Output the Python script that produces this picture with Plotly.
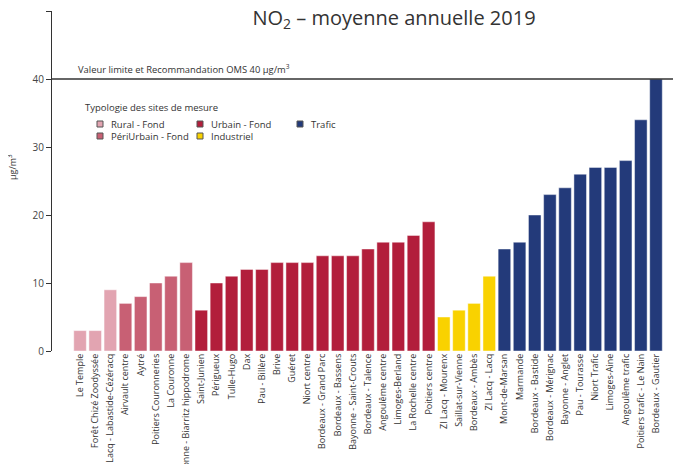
import plotly.graph_objects as go

# ---- data ----
rural_sites = ["Le Temple", "Forêt Chizé Zoodyssée", "Lacq - Labastide-Cézéracq"]
rural_vals = [3, 3, 9]

periurbain_sites = ["Airvault centre", "Aytré", "Poitiers Couronneries", "La Couronne",
                    "Bayonne - Biarritz hippodrome"]
periurbain_vals = [7, 8, 10, 11, 13]

urbain_sites = ["Saint-Junien", "Périgueux", "Tulle-Hugo", "Dax", "Pau - Billère", "Brive",
                "Guéret", "Niort centre", "Bordeaux - Grand Parc", "Bordeaux - Bassens",
                "Bayonne - Saint-Crouts", "Bordeaux - Talence", "Angoulême centre",
                "Limoges-Berland", "La Rochelle centre", "Poitiers centre"]
urbain_vals = [6, 10, 11, 12, 12, 13, 13, 13, 14, 14, 14, 15, 16, 16, 17, 19]

industriel_sites = ["ZI Lacq - Mourenx", "Saillat-sur-Vienne", "Bordeaux - Ambès", "ZI Lacq - Lacq"]
industriel_vals = [5, 6, 7, 11]

trafic_sites = ["Mont-de-Marsan", "Marmande", "Bordeaux - Bastide", "Bordeaux - Mérignac",
                "Bayonne - Anglet", "Pau - Tourasse", "Niort Trafic", "Limoges-Aine",
                "Angoulême trafic", "Poitiers trafic - Le Nain", "Bordeaux - Gautier"]
trafic_vals = [15, 16, 20, 23, 24, 26, 27, 27, 28, 34, 40]

limit_value = 40
y_ticks = [0, 10, 20, 30, 40, 50]

group_names = ["Rural - Fond", "PériUrbain - Fond", "Urbain - Fond", "Industriel", "Trafic"]
group_sites = [rural_sites, periurbain_sites, urbain_sites, industriel_sites, trafic_sites]
group_vals = [rural_vals, periurbain_vals, urbain_vals, industriel_vals, trafic_vals]
group_colors = ["#E2A4B1", "#C86074", "#B21E3B", "#F9D200", "#233A7A"]

all_sites = rural_sites + periurbain_sites + urbain_sites + industriel_sites + trafic_sites

FONT = "Open Sans, Noto Sans, sans-serif"
TXT = "#333333"
W, H = 681, 464
OFF = 8  # page body margin
FW, FH = W - OFF, H - OFF
L, R, T, B = 52 - OFF, 0, 11 - OFF, 113
pw, ph = FW - L - R, FH - T - B

def px_x(px):  # screen px -> paper x
    return (px - OFF - L) / pw

def px_y(py):  # screen px -> paper y
    return (FH - B - (py - OFF)) / ph

fig = go.Figure()
for name, sites, vals, color in zip(group_names, group_sites, group_vals, group_colors):
    fig.add_trace(go.Bar(
        x=sites, y=vals, name=name, showlegend=False,
        marker=dict(color=color, line=dict(color="rgba(255,255,255,0.45)", width=1)),
    ))

# limit line + label
fig.add_shape(type="line", xref="paper", x0=0, x1=1, yref="y", y0=limit_value, y1=limit_value,
              line=dict(color="#333333", width=1.5), layer="above")
fig.add_annotation(xref="paper", x=px_x(76), yref="y", y=limit_value, xanchor="left",
                   yanchor="bottom", yshift=1, showarrow=False,
                   text="Valeur limite et Recommandation OMS 40 µg/m<sup>3</sup>",
                   font=dict(family=FONT, size=9.4, color=TXT))

# legend (title + entries)
fig.add_annotation(xref="paper", x=px_x(83), yref="paper", y=px_y(107), xanchor="left",
                   yanchor="middle", showarrow=False, text="Typologie des sites de mesure",
                   font=dict(family=FONT, size=9.5, color=TXT))
leg_pos = [(97, 124), (97, 136), (197, 124), (197, 136), (297, 124)]
for name, color, (lx, ly) in zip(group_names, group_colors, leg_pos):
    fig.add_shape(type="rect", xref="paper", yref="paper",
                  x0=px_x(lx), x1=px_x(lx + 6), y0=px_y(ly - 3), y1=px_y(ly + 3),
                  fillcolor=color, line=dict(color="#555555", width=1), layer="above")
    fig.add_annotation(xref="paper", x=px_x(lx + 12), yref="paper", y=px_y(ly), xanchor="left",
                       yanchor="middle", showarrow=False, text=name,
                       font=dict(family=FONT, size=9.5, color=TXT))

# y-axis title
fig.add_annotation(xref="paper", x=px_x(12), yref="paper", y=px_y(167), xanchor="center",
                   yanchor="middle", showarrow=False, textangle=-90, text="µg/m<sup>3</sup>",
                   font=dict(family=FONT, size=9, color=TXT))

fig.update_layout(
    width=FW, height=FH,
    margin=dict(l=L, r=R, t=T, b=B, pad=0),
    paper_bgcolor="white", plot_bgcolor="white",
    barmode="relative", bargap=0.17,
    title=dict(text="NO<sub>2</sub> – moyenne annuelle 2019", x=(394 - OFF) / FW,
               xanchor="center", y=1 - (18 - OFF) / FH, yanchor="middle",
               font=dict(family=FONT, size=20, color=TXT)),
    showlegend=False,
    xaxis=dict(type="category", categoryorder="array", categoryarray=all_sites,
               range=[-1.85, len(all_sites) - 1 + 1.65], tickangle=-90,
               showline=False, ticks="", showgrid=False, zeroline=False,
               tickfont=dict(family=FONT, size=9, color=TXT), automargin=False),
    yaxis=dict(range=[0, 50], tickvals=y_ticks, showline=True, linecolor="#333333", linewidth=1,
               ticks="outside", ticklen=5, tickcolor="#333333", showgrid=False, zeroline=False,
               tickfont=dict(family=FONT, size=10, color="#444444"), automargin=False),
    font=dict(family=FONT),
)

fig.write_html("out.html")
